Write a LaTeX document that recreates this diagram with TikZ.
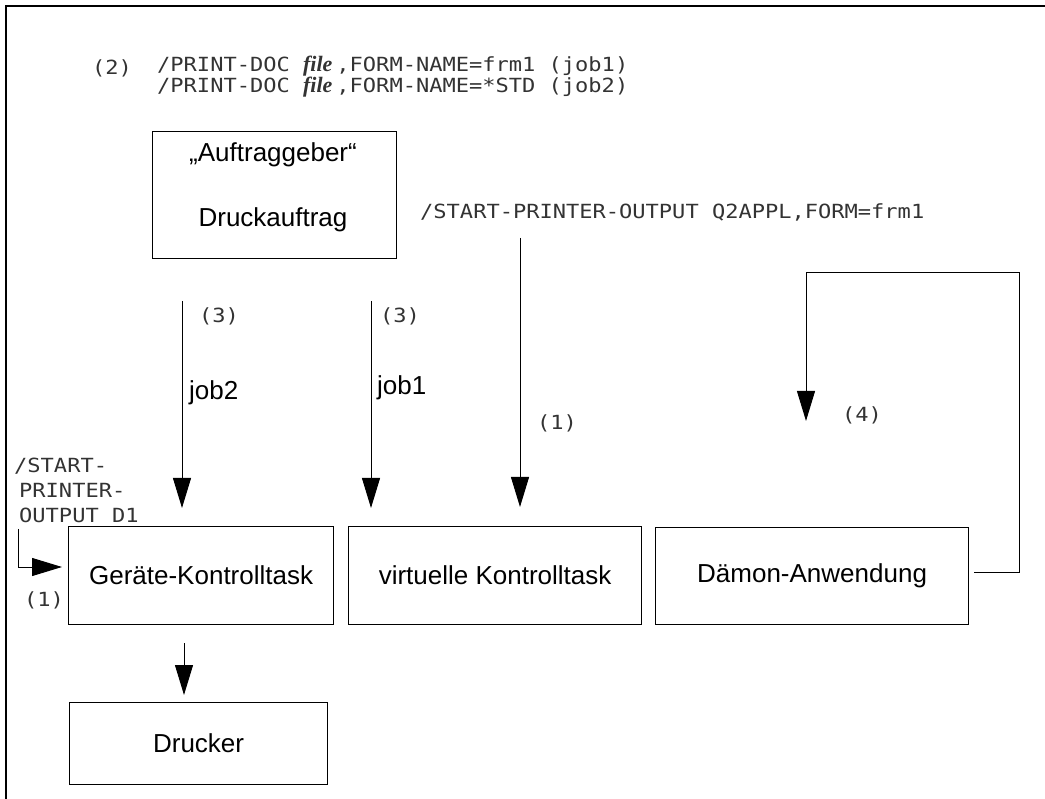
\documentclass[tikz,border=0pt]{standalone}
\usepackage{fontspec}
\setmainfont{Liberation Sans}
\newfontfamily\monof[FakeStretch=1.13]{DejaVu Sans Mono}
\newfontfamily\serf{Liberation Serif}
\usetikzlibrary{arrows.meta}
\newcommand{\fileword}{{\serf\bfseries\itshape\fontsize{22}{18}\selectfont file}\hspace{4pt}}
\tikzset{
  box/.style={draw, line width=1.2pt, inner sep=0pt, anchor=north west,
    font=\fontsize{26}{30}\selectfont},
  lbl/.style={inner sep=0pt, font=\fontsize{26}{30}\selectfont},
  monotext/.style={inner sep=0pt, anchor=base west, text=black!80,
    font=\monof\fontsize{19.5}{20}\selectfont},
  arr/.style={draw, line width=1pt, -{Triangle[length=30pt,width=18pt]}},
  frameline/.style={draw, line width=1.2pt}
}
\begin{document}
\begin{tikzpicture}[x=1pt,y=-1pt]
\useasboundingbox (0,0) rectangle (1045,799);
\draw[frameline] (1045,6) -- (6,6) -- (6,799);

% command texts
\node[monotext] (n2) at (92,75) {(2)};
\node[monotext, align=left, font=\monof\fontsize{19.5}{18}\selectfont] (cmd) at (157,93)
  {/PRINT-DOC \fileword,FORM-NAME=frm1 (job1)\\/PRINT-DOC \fileword,FORM-NAME=*STD (job2)};
\node[monotext] (cmd3) at (420,219) {/START-PRINTER-OUTPUT Q2APPL,FORM=frm1};

% boxes
\node[box, minimum width=244pt, minimum height=127pt] (auf) at (152,131) {};
\node[lbl, anchor=base] (aufA) at (273,162) {„Auftraggeber“};
\node[lbl, anchor=base] (aufB) at (273,227) {Druckauftrag};

\node[box, minimum width=265pt, minimum height=98pt] (gk) at (68,526) {Geräte-Kontrolltask};
\node[box, minimum width=293pt, minimum height=98pt] (vk) at (348,526) {virtuelle Kontrolltask};
\node[box, minimum width=313pt, minimum height=97pt] (dm) at (655,527) {Dämon-Anwendung};
\node[box, minimum width=258pt, minimum height=82pt] (dr) at (69,702) {Drucker};

% arrows job2 / job1 / (1)
\coordinate (s1) at (182,301);
\coordinate (s2) at (371,301);
\coordinate (s3) at (520,238);
\draw[arr, shorten >=18pt] (s1) -- (s1 |- gk.north);
\draw[arr, shorten >=18pt] (s2) -- (s2 |- vk.north);
\draw[arr, shorten >=19pt] (s3) -- (s3 |- vk.north);

\node[monotext] (l3a) at (199,323) {(3)};
\node[monotext] (l3b) at (380,323) {(3)};
\node[lbl, anchor=base west] (j2) at (189,400) {job2};
\node[lbl, anchor=base west] (j1) at (377,395) {job1};
\node[monotext] (l1m) at (537,430) {(1)};

% left start command
\node[monotext] (sA) at (14,473) {/START-};
\node[monotext] (sB) at (19,498) {PRINTER-};
\node[monotext] (sC) at (19,522) {OUTPUT D1};
\coordinate (ls) at (18,529);
\draw[arr, shorten >=6pt] (ls) -- (18,567) -- (18,567 -| gk.west);
\node[monotext] (l1l) at (24,606) {(1)};

% geraete -> drucker
\coordinate (gd) at (184,643);
\draw[arr, shorten >=7pt] (gd) -- (gd |- dr.north);

% loop daemon
\coordinate (le) at (806,421);
\draw[arr, shorten <=5pt] (dm.east |- 0,572) -- (1019,572) -- (1019,273) -- (806,273) -- (le);
\node[monotext] (l4) at (842,422) {(4)};
\end{tikzpicture}
\end{document}
